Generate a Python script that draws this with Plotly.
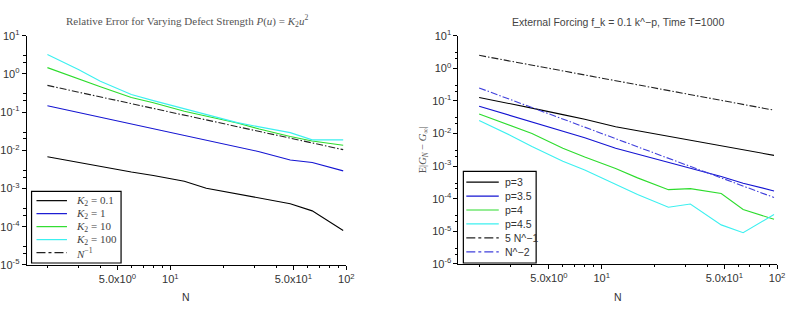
import plotly.graph_objects as go

W, H = 793, 312

# ---------------- data ----------------
N = [2, 3, 4, 6, 8, 12, 16, 24, 32, 48, 64, 96]

# left panel: relative error for varying defect strength
k2_01 = [0.0068, 0.0048, 0.0038, 0.0027, 0.0022, 0.00155, 0.00102, 0.00072, 0.00056, 0.0004, 0.00026, 0.00008]
k2_1 = [0.146, 0.097, 0.073, 0.048, 0.036, 0.024, 0.018, 0.0122, 0.0092, 0.0056, 0.0048, 0.0029]
k2_10 = [1.46, 0.73, 0.46, 0.24, 0.176, 0.105, 0.078, 0.052, 0.036, 0.023, 0.0176, 0.0136]
k2_100 = [3.2, 1.3, 0.64, 0.29, 0.20, 0.123, 0.087, 0.053, 0.041, 0.029, 0.0188, 0.0188]
n_inv = [0.5, 0.3333, 0.25, 0.1667, 0.125, 0.0833, 0.0625, 0.0417, 0.03125, 0.0208, 0.0156, 0.0104]

# right panel: external forcing
p3 = [0.127, 0.0832, 0.0603, 0.038, 0.0275, 0.0162, 0.0123, 0.0083, 0.0063, 0.00427, 0.00324, 0.00214]
p35 = [0.069, 0.0355, 0.0224, 0.0117, 0.0074, 0.00355, 0.00234, 0.00132, 0.00087, 0.00048, 0.0003, 0.000174]
p4 = [0.0398, 0.0182, 0.01, 0.00355, 0.0019, 0.00085, 0.000437, 0.00019, 0.000204, 0.000145, 0.0000468, 0.0000234]
p45 = [0.0251, 0.0089, 0.004, 0.00141, 0.00076, 0.00028, 0.000135, 0.000055, 0.000069, 0.0000158, 0.0000091, 0.000033]
five_n_inv = [2.5, 1.667, 1.25, 0.833, 0.625, 0.417, 0.3125, 0.208, 0.156, 0.104, 0.078, 0.052]
n_inv2 = [0.25, 0.111, 0.0625, 0.0278, 0.0156, 0.00694, 0.00391, 0.00174, 0.000977, 0.000434, 0.000244, 0.000109]

left_names = ["<i>K</i><sub>2</sub> = 0.1", "<i>K</i><sub>2</sub> = 1", "<i>K</i><sub>2</sub> = 10",
              "<i>K</i><sub>2</sub> = 100", "<i>N</i><sup>−1</sup>"]
left_series = [k2_01, k2_1, k2_10, k2_100, n_inv]
right_names = ["p=3", "p=3.5", "p=4", "p=4.5", "5 N^−1", "N^−2"]
right_series = [p3, p35, p4, p45, five_n_inv, n_inv2]

x_tickvals = [5, 10, 50, 100]
x_ticktext = ["5.0x10<sup>0</sup>", "10<sup>1</sup>", "5.0x10<sup>1</sup>", "10<sup>2</sup>"]
left_y_tickvals = [1e-5, 1e-4, 1e-3, 1e-2, 1e-1, 1e0, 1e1]
left_y_ticktext = ["10<sup>-5</sup>", "10<sup>-4</sup>", "10<sup>-3</sup>", "10<sup>-2</sup>",
                   "10<sup>-1</sup>", "10<sup>0</sup>", "10<sup>1</sup>"]
right_y_tickvals = [1e-6] + left_y_tickvals
right_y_ticktext = ["10<sup>-6</sup>"] + left_y_ticktext

# ---------------- styles ----------------
BLACK = "#000000"
BLUE = "#1414d2"
GREEN = "#2ddc2d"
CYAN = "#3cf0f0"
DBLUE = "#4040dc"
DASHDOT = "7px,2px,1.5px,2px"

left_colors = [BLACK, BLUE, GREEN, CYAN, "#222222"]
left_dash = ["solid", "solid", "solid", "solid", DASHDOT]
right_colors = [BLACK, BLUE, GREEN, CYAN, "#222222", DBLUE]
right_dash = ["solid", "solid", "solid", "solid", DASHDOT, DASHDOT]

TICKFONT = dict(family="Liberation Sans, Arial, sans-serif", size=11, color="#333333")


def px(xp):
    return xp / W


def py(yp):
    return 1 - yp / H


fig = go.Figure()

for s, c, d, n in zip(left_series, left_colors, left_dash, left_names):
    fig.add_trace(go.Scatter(x=N, y=s, mode="lines", name=n, showlegend=False,
                             line=dict(color=c, width=1.1, dash=d), xaxis="x", yaxis="y"))
for s, c, d, n in zip(right_series, right_colors, right_dash, right_names):
    fig.add_trace(go.Scatter(x=N, y=s, mode="lines", name=n, showlegend=False,
                             line=dict(color=c, width=1.1, dash=d), xaxis="x2", yaxis="y2"))

x_minor = [2, 3, 4, 6, 7, 8, 9, 20, 30, 40, 60, 70, 80, 90]
y_minor = []
for e in range(-6, 1):
    y_minor += [2 * 10 ** e, 3 * 10 ** e]

xcommon = dict(type="log", range=[0.183, 2.0], tickvals=x_tickvals, ticktext=x_ticktext,
               ticks="outside", ticklen=4, tickcolor=BLACK, tickwidth=1,
               showline=True, linecolor=BLACK, linewidth=1, showgrid=False, zeroline=False,
               tickfont=TICKFONT, tickangle=0,
               minor=dict(tickvals=x_minor, ticks="outside", ticklen=2.5, tickcolor=BLACK, showgrid=False))
ycommon = dict(type="log", ticks="outside", ticklen=4, tickcolor=BLACK, tickwidth=1,
               showline=True, linecolor=BLACK, linewidth=1, showgrid=False, zeroline=False,
               tickfont=TICKFONT,
               minor=dict(tickvals=y_minor, ticks="outside", ticklen=2.5, tickcolor=BLACK, showgrid=False))

fig.update_layout(
    width=W, height=H, margin=dict(l=0, r=0, t=0, b=0),
    paper_bgcolor="white", plot_bgcolor="white", showlegend=False,
    xaxis=dict(domain=[px(22), px(347)], anchor="y", **xcommon),
    yaxis=dict(domain=[py(269), py(29)], anchor="x", range=[-5, 1],
               tickvals=left_y_tickvals, ticktext=left_y_ticktext, **ycommon),
    xaxis2=dict(domain=[px(461), px(785)], anchor="y2", **xcommon),
    yaxis2=dict(domain=[py(268), py(29)], anchor="x2", range=[-6, 1],
                tickvals=right_y_tickvals, ticktext=right_y_ticktext, **ycommon),
)

ann = []
ann.append(dict(text="Relative Error for Varying Defect Strength <i>P</i>(<i>u</i>) = <i>K</i><sub>2</sub><i>u</i><sup>2</sup>",
                x=px(185), y=py(14), xref="paper", yref="paper", showarrow=False,
                xanchor="center", yanchor="middle",
                font=dict(family="Liberation Serif, DejaVu Serif, serif", size=11, color="#555555")))
ann.append(dict(text="External Forcing f_k = 0.1 k^−p, Time T=1000",
                x=px(623), y=py(15), xref="paper", yref="paper", showarrow=False,
                xanchor="center", yanchor="middle",
                font=dict(family="Liberation Sans, Arial, sans-serif", size=10.5, color="#444444")))
for xc in (184, 623):
    ann.append(dict(text="N", x=px(xc), y=py(303), xref="paper", yref="paper", showarrow=False,
                    xanchor="center", yanchor="middle",
                    font=dict(family="Liberation Sans, Arial, sans-serif", size=10.5, color="#333333")))
ann.append(dict(text="E|<i>G</i><sub><i>N</i></sub> − <i>G</i><sub>∞</sub>|", textangle=-90,
                x=px(425), y=py(149), xref="paper", yref="paper", showarrow=False,
                xanchor="center", yanchor="middle",
                font=dict(family="Liberation Serif, DejaVu Serif, serif", size=10.5, color="#555555")))

shapes = []
# left legend (manual)
shapes.append(dict(type="rect", xref="paper", yref="paper", x0=px(27), x1=px(118), y0=py(267), y1=py(192),
                   line=dict(color=BLACK, width=1.2), fillcolor="white", layer="above"))
for i, (nm, c, d) in enumerate(zip(left_names, left_colors, left_dash)):
    yy = 201.7 + i * 13.6
    shapes.append(dict(type="line", xref="paper", yref="paper", x0=px(32), x1=px(63), y0=py(yy), y1=py(yy),
                       line=dict(color=c, width=1.2, dash="dashdot" if d != "solid" else "solid"), layer="above"))
    ann.append(dict(text=nm, x=px(70), y=py(yy), xref="paper", yref="paper", showarrow=False,
                    xanchor="left", yanchor="middle",
                    font=dict(family="Liberation Serif, DejaVu Serif, serif", size=11, color="#444444")))
# right legend (manual)
shapes.append(dict(type="rect", xref="paper", yref="paper", x0=px(466), x1=px(540), y0=py(267), y1=py(171),
                   line=dict(color=BLACK, width=1.2), fillcolor="white", layer="above"))
for i, (nm, c, d) in enumerate(zip(right_names, right_colors, right_dash)):
    yy = 182.3 + i * 14.6
    shapes.append(dict(type="line", xref="paper", yref="paper", x0=px(469), x1=px(502), y0=py(yy), y1=py(yy),
                       line=dict(color=c, width=1.2, dash="dashdot" if d != "solid" else "solid"), layer="above"))
    ann.append(dict(text=nm, x=px(506), y=py(yy), xref="paper", yref="paper", showarrow=False,
                    xanchor="left", yanchor="middle",
                    font=dict(family="Liberation Sans, Arial, sans-serif", size=10.5, color="#333333")))

fig.update_layout(annotations=ann, shapes=shapes)
fig.write_html("out.html")
